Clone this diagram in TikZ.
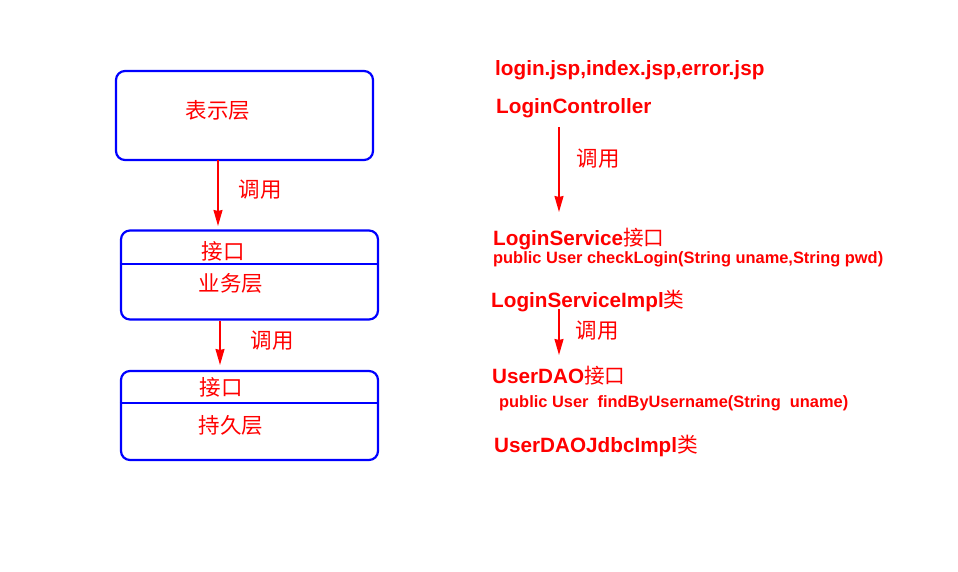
\documentclass[tikz,border=0pt]{standalone}
\usepackage{fontspec}
\setmainfont{Liberation Sans}
\newfontfamily\cjk{Noto Sans CJK SC}
\usetikzlibrary{arrows.meta,positioning}
\begin{document}
\begin{tikzpicture}[x=1pt,y=-1pt,line join=round,
	layer/.style={draw=blue,line width=2.2pt,rounded corners=9pt,minimum width=257pt,minimum height=89pt,inner sep=0pt},
	call/.style={draw=red,line width=1.5pt,-{Stealth[length=16pt,width=9pt,inset=1pt]}},
	zh/.style={text=red,font=\cjk\fontsize{21.5}{21.5}\selectfont,inner sep=0pt},
	code/.style={text=red,font=\bfseries\fontsize{20.7}{20.7}\selectfont,inner sep=0pt,anchor=base west},
	sig/.style={code,font=\bfseries\fontsize{16.4}{16.4}\selectfont}]
	\useasboundingbox (0,0) rectangle (958,571);
	% left: the three layers
	\node[layer] (pres) at (244.5,115.5) {};
	\node[layer] (biz) at (249.5,275) {};
	\node[layer] (dal) at (249.5,415.5) {};
	\draw[blue,line width=1.6pt] (biz.west |- 0,264) -- (biz.east |- 0,264);
	\draw[blue,line width=1.6pt] (dal.west |- 0,403) -- (dal.east |- 0,403);
	\node[zh] (prestxt) at (218,110) {表示层};
	\node[zh] (bizif) at (223,251) {接口};
	\node[zh] (biztxt) at (231,283) {业务层};
	\node[zh] (dalif) at (221,387) {接口};
	\node[zh] (daltxt) at (231,425) {持久层};
	\coordinate (c1a) at (218,160); \coordinate (c1b) at (218,226);
	\coordinate (c2a) at (220,321); \coordinate (c2b) at (220,365);
	\draw[call] (c1a) -- (c1b);
	\draw[call] (c2a) -- (c2b);
	\node[zh] (call1) at (260,190) {调用};
	\node[zh] (call2) at (272,341) {调用};
	% right: the classes
	\node[code] (jsp) at (495,75) {login.jsp,index.jsp,error.jsp};
	\node[code] (ctrl) at (496,113) {LoginController};
	\node[code] (svc) at (493,245) {LoginService{\cjk\mdseries 接口}};
	\node[sig] (svcm) at (493,263) {public User checkLogin(String uname,String pwd)};
	\node[code] (svcimpl) at (491,307) {LoginServiceImpl{\cjk\mdseries 类}};
	\node[code] (dao) at (492,383) {UserDAO{\cjk\mdseries 接口}};
	\node[sig] (daom) at (499,407) {public User\ \ findByUsername(String\ \ uname)};
	\node[code] (daoimpl) at (494,452) {UserDAOJdbcImpl{\cjk\mdseries 类}};
	\coordinate (c3a) at (559,127); \coordinate (c3b) at (559,212);
	\coordinate (c4a) at (559,309); \coordinate (c4b) at (559,355);
	\draw[call] (c3a) -- (c3b);
	\draw[call] (c4a) -- (c4b);
	\node[zh] (call3) at (598,159) {调用};
	\node[zh] (call4) at (597,331) {调用};
\end{tikzpicture}
\end{document}
